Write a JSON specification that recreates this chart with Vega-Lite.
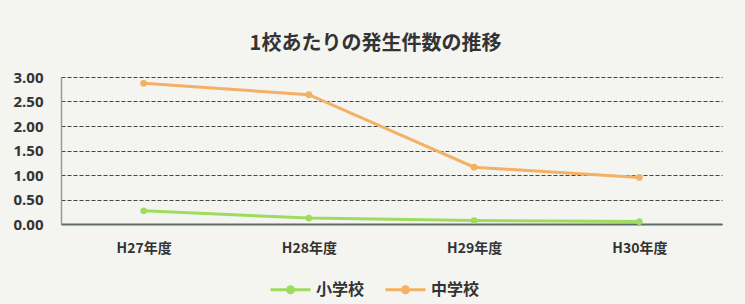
{
  "$schema": "https://vega.github.io/schema/vega-lite/v6.json",
  "width": 661,
  "height": 147,
  "autosize": {"type": "none"},
  "padding": {"left": 61, "top": 77, "right": 23, "bottom": 80},
  "background": "#f4f4f1",
  "title": {
    "text": "1校あたりの発生件数の推移",
    "font": "Noto Sans CJK JP",
    "fontSize": 20,
    "fontWeight": "bold",
    "color": "#333333",
    "anchor": "middle",
    "dx": -16,
    "offset": 16
  },
  "data": {
    "values": [
      {"year": "H27年度", "school": "小学校", "value": 0.27},
      {"year": "H28年度", "school": "小学校", "value": 0.12},
      {"year": "H29年度", "school": "小学校", "value": 0.07},
      {"year": "H30年度", "school": "小学校", "value": 0.05},
      {"year": "H27年度", "school": "中学校", "value": 2.87},
      {"year": "H28年度", "school": "中学校", "value": 2.64},
      {"year": "H29年度", "school": "中学校", "value": 1.16},
      {"year": "H30年度", "school": "中学校", "value": 0.95}
    ]
  },
  "mark": {"type": "line", "strokeWidth": 3, "point": {"size": 45, "filled": true}},
  "encoding": {
    "x": {
      "field": "year",
      "type": "nominal",
      "sort": null,
      "scale": {"type": "point", "padding": 0.5},
      "axis": {
        "title": null,
        "labelAngle": 0,
        "ticks": false,
        "grid": false,
        "domainColor": "#5f6b6b",
        "domainWidth": 2,
        "labelPadding": 17,
        "labelFont": "Noto Sans CJK JP",
        "labelFontSize": 14,
        "labelFontWeight": "bold",
        "labelColor": "#333333"
      }
    },
    "y": {
      "field": "value",
      "type": "quantitative",
      "scale": {"domain": [0, 3]},
      "axis": {
        "title": null,
        "values": [0, 0.5, 1, 1.5, 2, 2.5, 3],
        "format": ".2f",
        "ticks": false,
        "domainColor": "#999999",
        "domainWidth": 1.5,
        "gridColor": "#444444",
        "gridDash": [4, 2],
        "gridWidth": 1,
        "labelPadding": 18,
        "labelFont": "Open Sans",
        "labelFontSize": 15,
        "labelFontWeight": "bold",
        "labelColor": "#333333"
      }
    },
    "color": {
      "field": "school",
      "type": "nominal",
      "sort": ["小学校", "中学校"],
      "scale": {"domain": ["小学校", "中学校"], "range": ["#9fdb5e", "#f2b164"]},
      "legend": {
        "title": null,
        "orient": "none",
        "direction": "horizontal",
        "legendX": 208,
        "legendY": 191,
        "symbolType": "M-1,0H-0.15A0.15,0.15 0 1 1 0.15,0A0.15,0.15 0 1 1 -0.15,0M0.15,0H1",
        "symbolSize": 1600,
        "symbolStrokeWidth": 3,
        "labelFont": "Noto Sans CJK JP",
        "labelFontSize": 16,
        "labelFontWeight": "bold",
        "labelColor": "#333333",
        "labelOffset": 4,
        "columnPadding": 14,
        "encode": {
          "symbols": {"update": {"fill": {"scale": "color", "field": "value"}}}
        }
      }
    }
  },
  "config": {
    "view": {"stroke": null}
  }
}
